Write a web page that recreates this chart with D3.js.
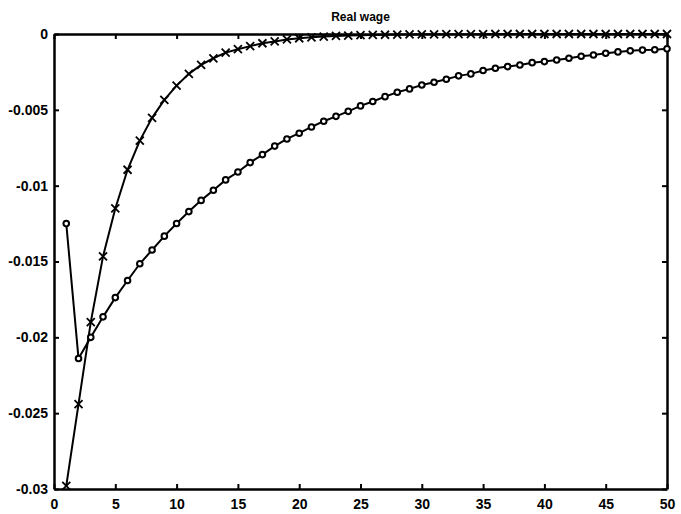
<!DOCTYPE html>
<html>
<head>
<meta charset="utf-8">
<script src="https://cdn.jsdelivr.net/npm/d3@7"></script>
<style>
  html, body { margin: 0; padding: 0; background: #fff; }
  svg { display: block; }
  text { font-family: "Liberation Sans", Arial, Helvetica, sans-serif; font-weight: bold; fill: #000; }
</style>
</head>
<body>
<svg id="chart" width="681" height="514"></svg>
<script>
// Periods after the shock
const periods = d3.range(1, 51);

// Response drawn with circle markers (slow decay)
const circleSeries = [
  -0.0125, -0.0214, -0.0200, -0.01865, -0.01738, -0.01625, -0.01515, -0.01424, -0.01333, -0.01249,
  -0.01171, -0.01097, -0.01030, -0.00962, -0.00910, -0.00848, -0.00795, -0.00739, -0.00692, -0.00654,
  -0.00613, -0.00575, -0.00543, -0.00510, -0.00474, -0.00445, -0.00413, -0.00384, -0.00362, -0.00336,
  -0.00318, -0.00298, -0.00276, -0.00263, -0.00241, -0.00226, -0.00215, -0.00204, -0.00189, -0.00182,
  -0.00171, -0.00160, -0.00147, -0.00138, -0.00127, -0.00118, -0.00111, -0.00106, -0.00104, -0.00098
];

// Response drawn with cross markers (fast decay)
const crossSeries = [
  -0.0298, -0.0244, -0.0190, -0.01466, -0.0115, -0.00895, -0.00703, -0.00553, -0.00434, -0.00340,
  -0.00263, -0.00204, -0.00160, -0.00123, -0.00100, -0.00080, -0.00061, -0.00049, -0.00036, -0.00028,
  -0.00022, -0.00017, -0.00013, -0.00010, -0.00008, -0.00006, -0.00005, -0.00004, -0.00003, -0.00002,
  -0.00002, -0.00001, -0.00001, -0.00001, -0.00001, 0, 0, 0, 0, 0,
  0, 0, 0, 0, 0, 0, 0, 0, 0, 0
];

const xTicks = [0, 5, 10, 15, 20, 25, 30, 35, 40, 45, 50];
const yTicks = [0, -0.005, -0.01, -0.015, -0.02, -0.025, -0.03];
const yTickLabels = ["0", "-0.005", "-0.01", "-0.015", "-0.02", "-0.025", "-0.03"];
const title = "Real wage";

const svg = d3.select("#chart");
const margin = { left: 54, right: 14, top: 34, bottom: 25 };
const W = 681, H = 514;
const x = d3.scaleLinear().domain([0, 50]).range([margin.left, W - margin.right]);
const y = d3.scaleLinear().domain([-0.03, 0]).range([H - margin.bottom, margin.top]);

const tickLen = 5;

// Axes on all four sides, ticks pointing inwards
const gBottom = svg.append("g").attr("transform", `translate(0,${y(-0.03)})`)
  .call(d3.axisBottom(x).tickValues(xTicks).tickSizeInner(-tickLen).tickSizeOuter(0).tickPadding(10));
const gTop = svg.append("g").attr("transform", `translate(0,${y(0)})`)
  .call(d3.axisTop(x).tickValues(xTicks).tickSizeInner(-tickLen).tickSizeOuter(0).tickFormat(""));
const gLeft = svg.append("g").attr("transform", `translate(${x(0)},0)`)
  .call(d3.axisLeft(y).tickValues(yTicks).tickSizeInner(-tickLen).tickSizeOuter(0).tickPadding(6)
    .tickFormat((d, i) => yTickLabels[i]));
const gRight = svg.append("g").attr("transform", `translate(${x(50)},0)`)
  .call(d3.axisRight(y).tickValues(yTicks).tickSizeInner(-tickLen).tickSizeOuter(0).tickFormat(""));

[gBottom, gTop, gLeft, gRight].forEach(g => {
  g.select(".domain").attr("stroke", "#000").attr("stroke-width", 2.5);
  g.selectAll(".tick line").attr("stroke", "#000").attr("stroke-width", 2);
  g.selectAll(".tick text").style("font-size", "14px").attr("fill", "#000");
});
gBottom.selectAll(".tick text").attr("dy", "0.71em");

// Title
svg.append("text")
  .attr("x", (x(0) + x(50)) / 2)
  .attr("y", 21)
  .attr("text-anchor", "middle")
  .style("font-size", "12px")
  .text(title);

const plot = svg.append("g");

const line = d3.line().x((d, i) => x(periods[i])).y(d => y(d));

plot.append("path").datum(crossSeries)
  .attr("d", line).attr("fill", "none").attr("stroke", "#000").attr("stroke-width", 2);
plot.append("path").datum(circleSeries)
  .attr("d", line).attr("fill", "none").attr("stroke", "#000").attr("stroke-width", 2);

// Cross markers
const cs = 4;
plot.selectAll(".cross").data(crossSeries).join("path")
  .attr("class", "cross")
  .attr("d", (d, i) => {
    const cx = x(periods[i]), cy = y(d);
    return `M${cx - cs},${cy - cs}L${cx + cs},${cy + cs}M${cx - cs},${cy + cs}L${cx + cs},${cy - cs}`;
  })
  .attr("stroke", "#000").attr("stroke-width", 1.8).attr("fill", "none");

// Circle markers
plot.selectAll(".circ").data(circleSeries).join("circle")
  .attr("class", "circ")
  .attr("cx", (d, i) => x(periods[i]))
  .attr("cy", d => y(d))
  .attr("r", 2.8)
  .attr("fill", "#fff").attr("stroke", "#000").attr("stroke-width", 2);
</script>
</body>
</html>
